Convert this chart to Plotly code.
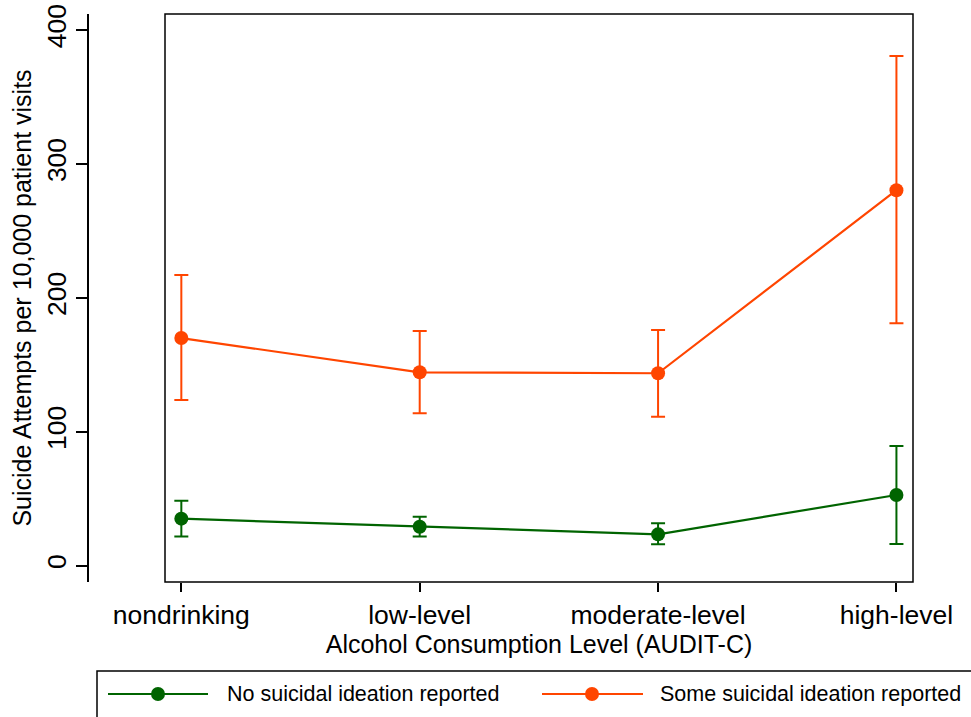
import plotly.graph_objects as go

categories = ["nondrinking", "low-level", "moderate-level", "high-level"]

no_ideation = [35.1, 29.1, 23.4, 52.8]
no_ideation_upper = [48.5, 36.6, 31.7, 89.4]
no_ideation_lower = [21.7, 21.7, 16.0, 16.2]

some_ideation = [170.0, 144.4, 143.7, 280.4]
some_ideation_upper = [217.0, 175.2, 176.0, 380.6]
some_ideation_lower = [123.7, 113.8, 111.3, 181.0]

y_ticks = [0, 100, 200, 300, 400]

GREEN = "#006400"
ORANGE = "#FF4500"
FONT = "Liberation Sans, Arial, sans-serif"
TICKFS = 26.5
TITLEFS = 25

x_idx = list(range(len(categories)))


def errs(vals, up, lo):
    return [u - v for u, v in zip(up, vals)], [v - l for v, l in zip(vals, lo)]


fig = go.Figure()
for name, vals, up, lo, col in [
    ("No suicidal ideation reported", no_ideation, no_ideation_upper, no_ideation_lower, GREEN),
    ("Some suicidal ideation reported", some_ideation, some_ideation_upper, some_ideation_lower, ORANGE),
]:
    e_up, e_lo = errs(vals, up, lo)
    fig.add_trace(go.Scatter(
        x=x_idx, y=vals, name=name, mode="lines+markers",
        line=dict(color=col, width=2.2),
        marker=dict(color=col, size=14),
        error_y=dict(type="data", array=e_up, arrayminus=e_lo, symmetric=False,
                     color=col, thickness=2, width=7),
        showlegend=False,
    ))

# plot frame
fig.add_shape(type="rect", xref="x domain", yref="y domain", x0=0, x1=1, y0=0, y1=1,
              line=dict(color="black", width=1.5), layer="above")

# manual legend (paper coords; plot paper: l=88, t=14, w=825, h=568)
L, T, W, H = 88, 14, 825, 568
def px(x):
    return (x - L) / W
def py(y):
    return (T + H - y) / H

fig.add_shape(type="rect", xref="paper", yref="paper",
              x0=px(97), x1=px(990), y0=py(671), y1=py(730),
              line=dict(color="black", width=1.5))
legend_items = [
    ("No suicidal ideation reported", GREEN, 108, 208, 158, 225),
    ("Some suicidal ideation reported", ORANGE, 542, 643, 592, 658),
]
for text, col, xa, xb, xm, xt in legend_items:
    fig.add_shape(type="line", xref="paper", yref="paper",
                  x0=px(xa), x1=px(xb), y0=py(694), y1=py(694),
                  line=dict(color=col, width=2.2))
    fig.add_shape(type="circle", xref="paper", yref="paper",
                  xsizemode="pixel", ysizemode="pixel",
                  xanchor=px(xm), yanchor=py(694),
                  x0=-7, x1=7, y0=-7, y1=7,
                  fillcolor=col, line=dict(color=col, width=0))
    fig.add_annotation(xref="paper", yref="paper", x=px(xt), y=py(694),
                       text=text, showarrow=False, xanchor="left", yanchor="middle",
                       font=dict(family=FONT, size=21.5, color="black"))

fig.update_layout(
    width=971, height=717,
    margin=dict(l=L, r=971 - L - W, t=T, b=717 - T - H),
    paper_bgcolor="white", plot_bgcolor="white",
    font=dict(family=FONT, size=TICKFS, color="black"),
    xaxis=dict(
        domain=[77 / 825, 1],
        range=[-0.0685, 3.0695],
        automargin=False,
        tickmode="array", tickvals=x_idx, ticktext=categories,
        ticks="outside", ticklen=9, tickwidth=1.5, tickcolor="black",
        showline=False, showgrid=False, zeroline=False,
        tickfont=dict(family=FONT, size=TICKFS, color="black"),
        title=dict(text="Alcohol Consumption Level (AUDIT-C)", standoff=2,
                   font=dict(family=FONT, size=TITLEFS, color="black")),
    ),
    yaxis=dict(
        anchor="free", position=0,
        range=[-12.2, 412],
        automargin=False,
        tickmode="array", tickvals=y_ticks,
        ticks="outside", ticklen=11, tickwidth=1.5, tickcolor="black",
        tickangle=-90,
        showline=True, linecolor="black", linewidth=1.5,
        showgrid=False, zeroline=False,
        tickfont=dict(family=FONT, size=TICKFS, color="black"),
        title=dict(text="Suicide Attempts per 10,000 patient visits", standoff=2,
                   font=dict(family=FONT, size=TITLEFS, color="black")),
    ),
)

fig.write_html("out.html", config={"displayModeBar": False},
               post_script="document.body.style.margin='0px';")
